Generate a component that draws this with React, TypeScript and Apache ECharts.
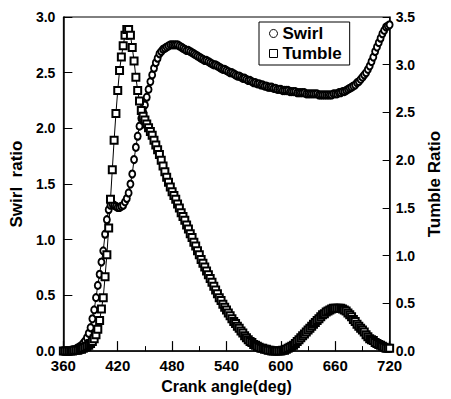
import React, { useEffect, useRef } from 'react';
import * as echarts from 'echarts';

// Crank angle grid (deg), one sample every 2 degrees from 360 to 720
const angles: number[] = Array.from({ length: 181 }, (_, i) => 360 + 2 * i);

// Swirl ratio (left axis)
const swirl: number[] = [
  0, 0, 0, 0, 0, 0.01, 0.01, 0.02, 0.03, 0.04,
  0.05, 0.07, 0.09, 0.12, 0.16, 0.21, 0.29, 0.37, 0.48, 0.59,
  0.69, 0.80, 0.90, 1.05, 1.18, 1.27, 1.31, 1.32, 1.31, 1.30,
  1.29, 1.29, 1.30, 1.31, 1.34, 1.37, 1.42, 1.50, 1.59, 1.72,
  1.83, 1.93, 2.02, 2.09, 2.15, 2.21, 2.28, 2.35, 2.42, 2.48,
  2.54, 2.59, 2.63, 2.67, 2.69, 2.71, 2.72, 2.73, 2.74, 2.75,
  2.75, 2.75, 2.75, 2.75, 2.74, 2.73, 2.72, 2.71, 2.70, 2.70,
  2.69, 2.68, 2.67, 2.66, 2.65, 2.64, 2.63, 2.62, 2.61, 2.61,
  2.60, 2.59, 2.58, 2.57, 2.57, 2.56, 2.55, 2.54, 2.53, 2.53,
  2.52, 2.51, 2.50, 2.50, 2.49, 2.48, 2.47, 2.47, 2.46, 2.45,
  2.45, 2.44, 2.43, 2.43, 2.42, 2.41, 2.41, 2.40, 2.40, 2.39,
  2.39, 2.38, 2.38, 2.37, 2.37, 2.37, 2.36, 2.36, 2.35, 2.35,
  2.35, 2.34, 2.34, 2.34, 2.34, 2.33, 2.33, 2.33, 2.33, 2.32,
  2.32, 2.32, 2.32, 2.32, 2.31, 2.31, 2.31, 2.31, 2.31, 2.31,
  2.31, 2.30, 2.30, 2.30, 2.30, 2.30, 2.30, 2.30, 2.30, 2.31,
  2.31, 2.31, 2.32, 2.32, 2.33, 2.33, 2.34, 2.35, 2.36, 2.37,
  2.38, 2.39, 2.41, 2.42, 2.44, 2.46, 2.48, 2.50, 2.53, 2.56,
  2.60, 2.64, 2.69, 2.73, 2.77, 2.81, 2.85, 2.88, 2.91, 2.92,
  2.93,
];

// Tumble ratio (right axis)
const tumble: number[] = [
  0, 0, 0, 0, 0, 0, 0.01, 0.01, 0.01, 0.02,
  0.02, 0.03, 0.04, 0.05, 0.06, 0.08, 0.10, 0.13, 0.17, 0.23,
  0.32, 0.44, 0.56, 0.78, 1.01, 1.29, 1.59, 1.90, 2.21, 2.49,
  2.73, 2.94, 3.08, 3.20, 3.31, 3.37, 3.37, 3.31, 3.18, 3.04,
  2.87, 2.73, 2.62, 2.52, 2.46, 2.42, 2.38, 2.34, 2.30, 2.26,
  2.21, 2.16, 2.11, 2.06, 2.00, 1.94, 1.88, 1.82, 1.77, 1.72,
  1.67, 1.63, 1.59, 1.54, 1.50, 1.45, 1.41, 1.37, 1.32, 1.28,
  1.23, 1.19, 1.14, 1.10, 1.05, 1.01, 0.96, 0.92, 0.88, 0.84,
  0.80, 0.76, 0.72, 0.68, 0.64, 0.60, 0.56, 0.53, 0.49, 0.46,
  0.43, 0.40, 0.37, 0.34, 0.31, 0.29, 0.26, 0.24, 0.21, 0.19,
  0.16, 0.14, 0.12, 0.10, 0.09, 0.07, 0.06, 0.05, 0.04, 0.03,
  0.03, 0.02, 0.02, 0.01, 0.01, 0, 0, 0, 0, 0,
  0, 0.01, 0.01, 0.02, 0.03, 0.04, 0.05, 0.06, 0.08, 0.10,
  0.12, 0.14, 0.16, 0.18, 0.20, 0.22, 0.24, 0.26, 0.28, 0.30,
  0.32, 0.34, 0.36, 0.38, 0.39, 0.41, 0.42, 0.43, 0.44, 0.45,
  0.45, 0.45, 0.45, 0.45, 0.44, 0.43, 0.42, 0.40, 0.38, 0.36,
  0.33, 0.31, 0.28, 0.26, 0.24, 0.22, 0.20, 0.17, 0.15, 0.13,
  0.12, 0.11, 0.09, 0.08, 0.07, 0.06, 0.05, 0.04, 0.03, 0.03,
  0.03,
];

const seriesNames = ['Swirl', 'Tumble'];
const xTitle = 'Crank angle(deg)';
const leftTitle = 'Swirl  ratio';
const rightTitle = 'Tumble Ratio';

const FONT = "'Liberation Sans', Arial, Helvetica, sans-serif";

export default function App() {
  const ref = useRef<HTMLDivElement>(null);

  useEffect(() => {
    if (!ref.current) return;
    const chart = echarts.init(ref.current, null, { renderer: 'svg' });
    const labelStyle = { color: '#000', fontWeight: 'bold' as const, fontFamily: FONT };
    chart.setOption({
      animation: false,
      backgroundColor: '#fff',
      grid: {
        left: 59, right: 54, top: 17, bottom: 44,
        show: true, borderColor: '#000', borderWidth: 1, backgroundColor: 'transparent',
      },
      legend: {
        orient: 'vertical',
        left: 259,
        top: 22,
        padding: [3, 8, 3, 10],
        itemGap: 3,
        itemWidth: 8,
        itemHeight: 8,
        borderColor: '#000',
        borderWidth: 1,
        backgroundColor: '#fff',
        textStyle: { ...labelStyle, fontSize: 17, lineHeight: 17 },
        itemStyle: { color: '#fff', borderColor: '#000', borderWidth: 1 },
        data: [
          { name: seriesNames[0], icon: 'circle' },
          { name: seriesNames[1], icon: 'rect' },
        ],
      },
      xAxis: {
        type: 'value',
        min: 360,
        max: 720,
        interval: 60,
        name: xTitle,
        nameLocation: 'middle',
        nameGap: 24,
        nameTextStyle: { ...labelStyle, fontSize: 16 },
        axisLine: { onZero: false, lineStyle: { color: '#000', width: 1.5 } },
        axisTick: { inside: true, length: 10, lineStyle: { color: '#000', width: 1.2 } },
        minorTick: { show: true, splitNumber: 2, length: 5, lineStyle: { color: '#000', width: 1 } },
        axisLabel: { ...labelStyle, fontSize: 15, margin: 7 },
        splitLine: { show: false },
      },
      yAxis: [
        {
          type: 'value',
          position: 'left',
          min: 0,
          max: 3,
          interval: 0.5,
          name: leftTitle,
          nameLocation: 'middle',
          nameRotate: 90,
          nameGap: 36,
          nameTextStyle: { ...labelStyle, fontSize: 17 },
          axisLine: { show: true, onZero: false, lineStyle: { color: '#000', width: 1.5 } },
          axisTick: { inside: true, length: 9, lineStyle: { color: '#000', width: 1 } },
          axisLabel: { ...labelStyle, fontSize: 14, margin: 8, formatter: (v: number) => v.toFixed(1) },
          splitLine: { show: false },
        },
        {
          type: 'value',
          position: 'right',
          min: 0,
          max: 3.5,
          interval: 0.5,
          name: rightTitle,
          nameLocation: 'middle',
          nameRotate: 90,
          nameGap: 36,
          nameTextStyle: { ...labelStyle, fontSize: 17 },
          axisLine: { show: true, onZero: false, lineStyle: { color: '#000', width: 1.5 } },
          axisTick: { inside: true, length: 7, lineStyle: { color: '#000', width: 1 } },
          axisLabel: { ...labelStyle, fontSize: 14, margin: 6, formatter: (v: number) => v.toFixed(1) },
          splitLine: { show: false },
        },
      ],
      series: [
        {
          name: seriesNames[0],
          type: 'line',
          yAxisIndex: 0,
          data: angles.map((a, i) => [a, swirl[i]]),
          symbol: 'circle',
          symbolSize: [6, 7],
          showAllSymbol: true,
          lineStyle: { color: '#000', width: 1 },
          itemStyle: { color: '#fff', borderColor: '#000', borderWidth: 2 },
          emphasis: { disabled: true },
        },
        {
          name: seriesNames[1],
          type: 'line',
          yAxisIndex: 1,
          data: angles.map((a, i) => [a, tumble[i]]),
          symbol: 'rect',
          symbolSize: 7,
          showAllSymbol: true,
          lineStyle: { color: '#000', width: 1 },
          itemStyle: { color: '#fff', borderColor: '#000', borderWidth: 2 },
          emphasis: { disabled: true },
        },
      ],
    });
    return () => chart.dispose();
  }, []);

  return (
    <div
      ref={ref}
      style={{ position: 'fixed', left: 0, top: 0, width: 451, height: 399, background: '#fff' }}
    />
  );
}
